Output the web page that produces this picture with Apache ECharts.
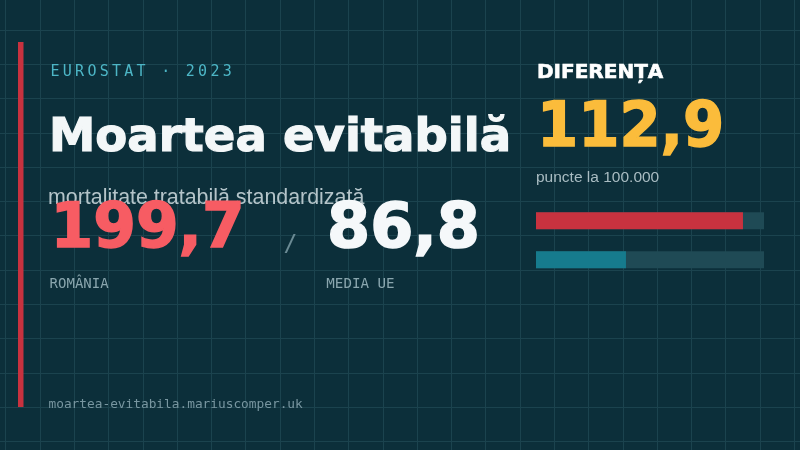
<!DOCTYPE html>
<html>
<head>
<meta charset="utf-8">
<script src="https://cdn.jsdelivr.net/npm/echarts@6/dist/echarts.min.js"></script>
<style>
html,body{margin:0;padding:0;background:#0c2f3a;}
#c{width:800px;height:450px;}
</style>
</head>
<body>
<div id="c"></div>
<script>
// ---- data ----
const categories = ['România', 'Media UE'];
const categoryLabels = ['ROMÂNIA', 'MEDIA UE'];
const values = [199.7, 86.8];
const difference = [112.9];
const scaleMax = [220];
const sourceLine = ['EUROSTAT · 2023'];
const titleText = ['Moartea evitabilă'];
const subtitleText = ['mortalitate tratabilă standardizată'];
const diffTitle = ['DIFERENȚA'];
const diffUnit = ['puncte la 100.000'];
const footerText = ['moartea-evitabila.mariuscomper.uk'];

// ---- styles ----
const BG = '#0c2f3a';
const GRIDLINE = '#1b434e';
const barColors = ['#c8323f', '#167b8d'];
const TRACK = '#1f4a55';
const BOLD = '"DejaVu Sans", sans-serif';
const SANS = '"Liberation Sans", Arial, sans-serif';
const MONO = '"DejaVu Sans Mono", monospace';

const fmt = v => v.toFixed(1).replace('.', ',');

function txt(text, x, y, font, fill, align, strokeW, sx) {
  const st = {
    text: text, font: font, fill: fill,
    textAlign: align || 'left', align: align || 'left',
    textVerticalAlign: 'middle', verticalAlign: 'middle'
  };
  if (strokeW) { st.stroke = fill; st.lineWidth = strokeW; st.lineJoin = 'round'; }
  const el = {type: 'text', x: x, y: y, z: 100, silent: true, style: st};
  if (sx) { el.scaleX = sx; }
  return el;
}

// letter-spaced source line via rich tokens
const srcChars = Array.from(sourceLine[0]);
const srcRich = srcChars.map(c => '{c|' + c + '}').join('');

const chart = echarts.init(document.getElementById('c'), null, {renderer: 'canvas', width: 800, height: 450});

const hiddenAxisBits = {
  axisLine: {show: false}, axisTick: {show: false}, axisLabel: {show: false},
  splitLine: {show: true, lineStyle: {color: GRIDLINE, width: 1}}
};

const option = {
  backgroundColor: BG,
  animation: false,
  grid: [
    {left: -28.571, right: -28.571, top: -4.286, bottom: -25.714, z: 0, outerBoundsMode: 'none', containLabel: false},
    {left: 536, width: 228, top: 201.2, height: 78, z: 5, outerBoundsMode: 'none'}
  ],
  xAxis: [
    Object.assign({gridIndex: 0, type: 'value', min: 0, max: 25, interval: 1, z: 0}, hiddenAxisBits),
    {gridIndex: 1, type: 'value', min: 0, max: scaleMax[0], show: false}
  ],
  yAxis: [
    Object.assign({gridIndex: 0, type: 'value', min: 0, max: 14, interval: 1, z: 0}, hiddenAxisBits),
    {gridIndex: 1, type: 'category', data: categories, inverse: true, show: false}
  ],
  series: [{
    type: 'bar', xAxisIndex: 1, yAxisIndex: 1, silent: true, z: 10,
    barWidth: 17,
    data: values.map((v, i) => ({value: v, itemStyle: {color: barColors[i]}})),
    showBackground: true,
    backgroundStyle: {color: TRACK}
  }],
  graphic: {
    elements: [
      {type: 'rect', z: 100, silent: true, shape: {x: 18, y: 42, width: 5.5, height: 365}, style: {fill: '#c8323f'}},
      {
        type: 'text', x: 50.5, y: 71.8, z: 100, silent: true,
        style: {
          text: srcRich, fill: '#4db6c6', textAlign: 'left', align: 'left',
          textVerticalAlign: 'middle', verticalAlign: 'middle',
          rich: {c: {width: 12.3, font: '15px ' + MONO, fill: '#4db6c6', align: 'left'}}
        }
      },
      txt(titleText[0], 49, 138.7, 'bold 47px ' + BOLD, '#f3f7f8', 'left', 1.2, 0.99),
      txt(subtitleText[0], 48, 197.7, '21.4px ' + SANS, '#b4c4c9'),
      txt(fmt(values[0]), 50.5, 231, 'bold 62px ' + BOLD, '#f75c63', 'left', 1.6, 0.99),
      txt('/', 290.5, 245, '23px ' + MONO, '#6b8b94', 'center'),
      txt(fmt(values[1]), 327, 231, 'bold 62px ' + BOLD, '#f5f8fa', 'left', 1.6),
      txt(categoryLabels[0], 49.6, 284.2, '14px ' + MONO, '#8aa6ae'),
      txt(categoryLabels[1], 326.3, 284.2, '14.2px ' + MONO, '#8aa6ae'),
      txt(diffTitle[0], 537, 72.6, 'bold 20px ' + BOLD, '#ffffff', 'left', 0.6),
      txt(fmt(difference[0]), 537, 129.5, 'bold 62px ' + BOLD, '#fbbc3b', 'left', 1.6, 0.955),
      txt(diffUnit[0], 536, 177.6, '15.5px ' + SANS, '#a9bcc2'),
      txt(footerText[0], 48.5, 404.6, '12.8px ' + MONO, '#7896a0')
    ]
  }
};
chart.setOption(option);
</script>
</body>
</html>
